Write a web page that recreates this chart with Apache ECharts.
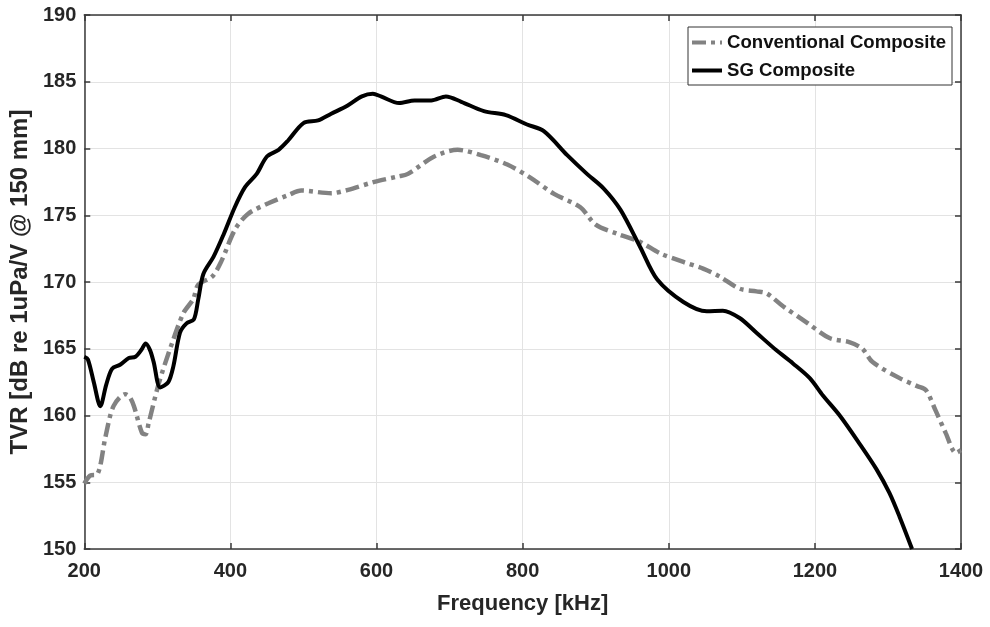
<!DOCTYPE html>
<html>
<head>
<meta charset="utf-8">
<script src="https://cdn.jsdelivr.net/npm/echarts@6/dist/echarts.min.js"></script>
<style>html,body{margin:0;padding:0;background:#fff}#c{width:990px;height:627px}</style>
</head>
<body>
<div id="c"></div>
<script>
var xTicks = [200, 400, 600, 800, 1000, 1200, 1400];
var yTicks = [150, 155, 160, 165, 170, 175, 180, 185, 190];

var sgFreq = [200,205,213,222,230,238,249,261,270,278,284,290,295,304,315,322,331,340,350,356,363,377,391,406,420,436,450,466,479,500,520,538,560,580,595,606,631,652,675,695,716,747,777,806,829,861,888,911,934,961,984,1020,1052,1074,1097,1120,1147,1170,1193,1211,1234,1261,1284,1302,1316,1333];
var sgTVR = [164.4,164.2,162.5,160.7,162.3,163.5,163.8,164.3,164.4,164.9,165.4,164.9,164.0,162.1,162.5,163.7,166.2,166.9,167.2,168.7,170.6,171.9,173.6,175.6,177.1,178.1,179.4,179.9,180.6,181.9,182.1,182.6,183.2,183.9,184.1,183.9,183.4,183.6,183.6,183.9,183.5,182.8,182.5,181.8,181.3,179.5,178.1,177.0,175.4,172.6,170.2,168.5,167.8,167.85,167.3,166.2,164.9,163.9,162.8,161.5,160.0,157.9,156.0,154.2,152.4,150.0];

var convFreq = [200,208,218,229,240,256,262,268,279,284,288,302,320,336,349,356,375,388,406,424,452,479,497,538,561,597,629,643,679,711,743,779,811,843,879,900,930,961,988,1020,1047,1070,1097,1120,1134,1156,1188,1220,1247,1265,1279,1316,1340,1352,1365,1379,1393,1400];
var convTVR = [154.9,155.5,155.6,158.4,160.7,161.6,161.4,160.7,158.7,158.6,159.4,162.4,165.4,167.7,168.7,169.8,170.4,171.6,173.9,175.1,175.9,176.5,176.85,176.65,176.9,177.5,177.9,178.1,179.4,179.9,179.5,178.8,177.8,176.6,175.6,174.3,173.6,173.0,172.15,171.5,171.0,170.4,169.5,169.3,169.15,168.2,167.0,165.8,165.5,165.0,164.0,162.8,162.2,161.9,160.4,158.7,157.2,157.4];

function pairs(xs, ys) { return xs.map(function (x, i) { return [x, ys[i]]; }); }

var FONT = '"Liberation Sans", Arial, sans-serif';
var TXT = '#262626';
var AX = '#3a3a3a';

var chart = echarts.init(document.getElementById('c'), null, { renderer: 'canvas' });

function xa(pos, show) {
  return {
    type: 'value', position: pos, min: xTicks[0], max: xTicks[xTicks.length - 1], interval: 200,
    name: show ? 'Frequency [kHz]' : '', nameLocation: 'middle', nameGap: 44,
    nameTextStyle: { fontFamily: FONT, fontWeight: 'bold', fontSize: 22, color: TXT },
    axisLine: { show: true, onZero: false, lineStyle: { color: AX, width: 1.5 } },
    axisTick: { show: true, inside: true, length: 6, lineStyle: { color: AX, width: 1.5 } },
    axisLabel: { show: show, margin: 12, fontFamily: FONT, fontWeight: 'bold', fontSize: 20, color: TXT,
      formatter: function (v) { return String(v); } },
    splitLine: { show: show, lineStyle: { color: '#e3e3e3', width: 1 } }
  };
}
function ya(pos, show) {
  return {
    type: 'value', position: pos, min: yTicks[0], max: yTicks[yTicks.length - 1], interval: 5,
    name: show ? 'TVR [dB re 1uPa/V @ 150 mm]' : '', nameLocation: 'middle', nameGap: 48, nameRotate: 90,
    nameTextStyle: { fontFamily: FONT, fontWeight: 'bold', fontSize: 24, color: TXT },
    axisLine: { show: true, onZero: false, lineStyle: { color: AX, width: 1.5 } },
    axisTick: { show: true, inside: true, length: 6, lineStyle: { color: AX, width: 1.5 } },
    axisLabel: { show: show, margin: 8, fontFamily: FONT, fontWeight: 'bold', fontSize: 20, color: TXT,
      formatter: function (v) { return String(v); } },
    splitLine: { show: show, lineStyle: { color: '#e3e3e3', width: 1 } }
  };
}

chart.setOption({
  animation: false,
  backgroundColor: '#fff',
  grid: { left: 82, right: 29, top: 15, bottom: 78, containLabel: false },
  xAxis: [xa('bottom', true), xa('top', false)],
  yAxis: [ya('left', true), ya('right', false)],
  legend: {
    left: 688, top: 27, orient: 'vertical',
    itemWidth: 30, itemHeight: 14, itemGap: 9,
    padding: [6, 6, 5, 2],
    backgroundColor: '#fff', borderColor: '#333', borderWidth: 1,
    itemStyle: { opacity: 0 },
    lineStyle: { width: 4 },
    textStyle: { fontFamily: FONT, fontWeight: 'bold', fontSize: 18.6, color: '#111' },
    data: ['Conventional Composite', 'SG Composite']
  },
  series: [
    {
      name: 'Conventional Composite', type: 'line', xAxisIndex: 0, yAxisIndex: 0,
      data: pairs(convFreq, convTVR), symbol: 'none', smooth: 0.3,
      lineStyle: { color: '#828282', width: 4.5, type: [14, 5, 4, 5] },
      itemStyle: { color: '#828282' }, z: 3
    },
    {
      name: 'SG Composite', type: 'line', xAxisIndex: 0, yAxisIndex: 0,
      data: pairs(sgFreq, sgTVR), symbol: 'none', smooth: 0.3,
      lineStyle: { color: '#000', width: 4 },
      itemStyle: { color: '#000' }, z: 4
    }
  ]
});
</script>
</body>
</html>
